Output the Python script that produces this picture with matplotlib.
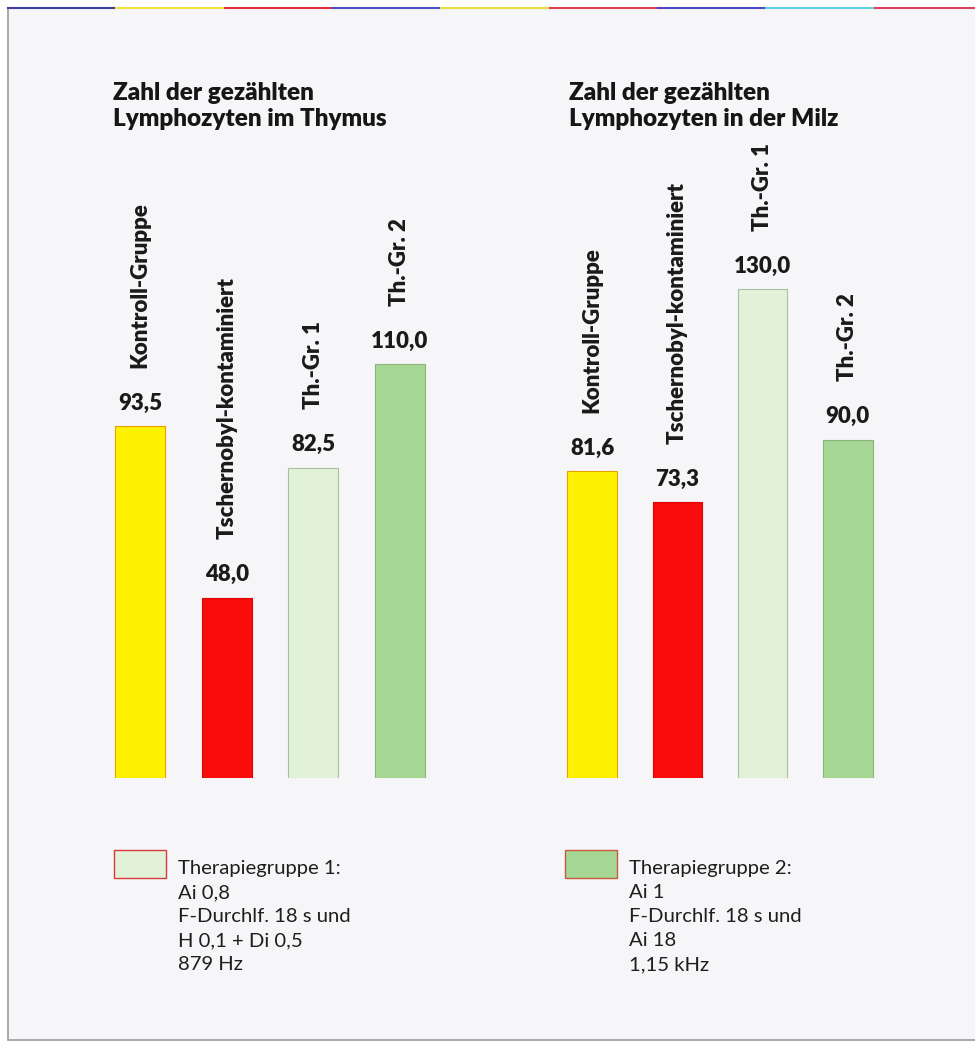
import matplotlib
matplotlib.use('Agg')
import matplotlib.pyplot as plt
from matplotlib.patches import Rectangle
from matplotlib.lines import Line2D

plt.rcParams['font.family'] = ['Lato', 'DejaVu Sans']

# daten
gruppen = ['Kontroll-Gruppe', 'Tschernobyl-kontaminiert', 'Th.-Gr. 1', 'Th.-Gr. 2']
thymus = [93.5, 48.0, 82.5, 110.0]
milz = [81.6, 73.3, 130.0, 90.0]
titel = ['Zahl der gezählten\nLymphozyten im Thymus',
         'Zahl der gezählten\nLymphozyten in der Milz']
legende = ['Therapiegruppe 1:\nAi 0,8\nF-Durchlf. 18 s und\nH 0,1 + Di 0,5\n879 Hz',
           'Therapiegruppe 2:\nAi 1\nF-Durchlf. 18 s und\nAi 18\n1,15 kHz']

farben = ['#fff200', '#f80c0c', '#e1f2d9', '#a7d795']
kanten = ['#e8a000', '#e00000', '#a9bfa2', '#8cb27e']

W, H = 975, 1045
fig = plt.figure(figsize=(W / 100, H / 100), dpi=100, facecolor='white')

# seitenrahmen
fig.add_artist(Rectangle((8 / W, 1 - 1040 / H), 1.0, (1040 - 8) / H,
                         transform=fig.transFigure, facecolor='#f6f6f8',
                         edgecolor='#9a9aa0', linewidth=1.2, zorder=-10))
oben = ['#4040a0', '#f0e040', '#e03040', '#5050c0', '#e8e040', '#e04050', '#4848c0', '#60d0e0', '#e04060']
for i, c in enumerate(oben):
    fig.add_artist(Line2D([8 / W + i / len(oben), 8 / W + (i + 1) / len(oben)], [1 - 8 / H, 1 - 8 / H],
                          transform=fig.transFigure, color=c, linewidth=1.5, zorder=-9))


def panel(x0, x1, werte):
    ax = fig.add_axes([x0 / W, 1 - 778 / H, (x1 - x0) / W, (778 - 120) / H])
    ax.set_xlim(-0.5, 3.5)
    ax.set_ylim(0, 175)
    ax.axis('off')
    pos = range(len(werte))
    ax.bar(pos, werte, width=0.58, color=farben, edgecolor=kanten, linewidth=0.8)
    for p, v, g in zip(pos, werte, gruppen):
        ax.annotate(f'{v:.1f}'.replace('.', ','), (p, v), xytext=(0, 9), textcoords='offset points',
                    ha='center', va='bottom', fontsize=16, fontweight='heavy', color='#1a1a1a')
        ax.annotate(g, (p, v), xytext=(0, 42), textcoords='offset points', rotation=90,
                    ha='center', va='bottom', fontsize=16, fontweight='heavy', color='#1a1a1a',
                    annotation_clip=False)
    return ax


panel(97, 443, thymus)
panel(549.5, 890.5, milz)

for x, t in zip([113, 569], titel):
    fig.text(x / W, 1 - 82 / H, t, ha='left', va='top', fontsize=17.5, fontweight='heavy',
             color='#161616', linespacing=1.25)

for x, t, f, e in zip([114, 565], legende, [farben[2], farben[3]], ['#d83a3a', '#c85a40']):
    fig.add_artist(Rectangle((x / W, 1 - 878 / H), 52 / W, 28 / H, transform=fig.transFigure,
                             facecolor=f, edgecolor=e, linewidth=1.0))
    fig.text((x + 64) / W, 1 - 860 / H, t, ha='left', va='top', fontsize=14.6,
             color='#1e1e1e', linespacing=1.5)

fig.savefig('out.png', dpi=100, facecolor=fig.get_facecolor())
